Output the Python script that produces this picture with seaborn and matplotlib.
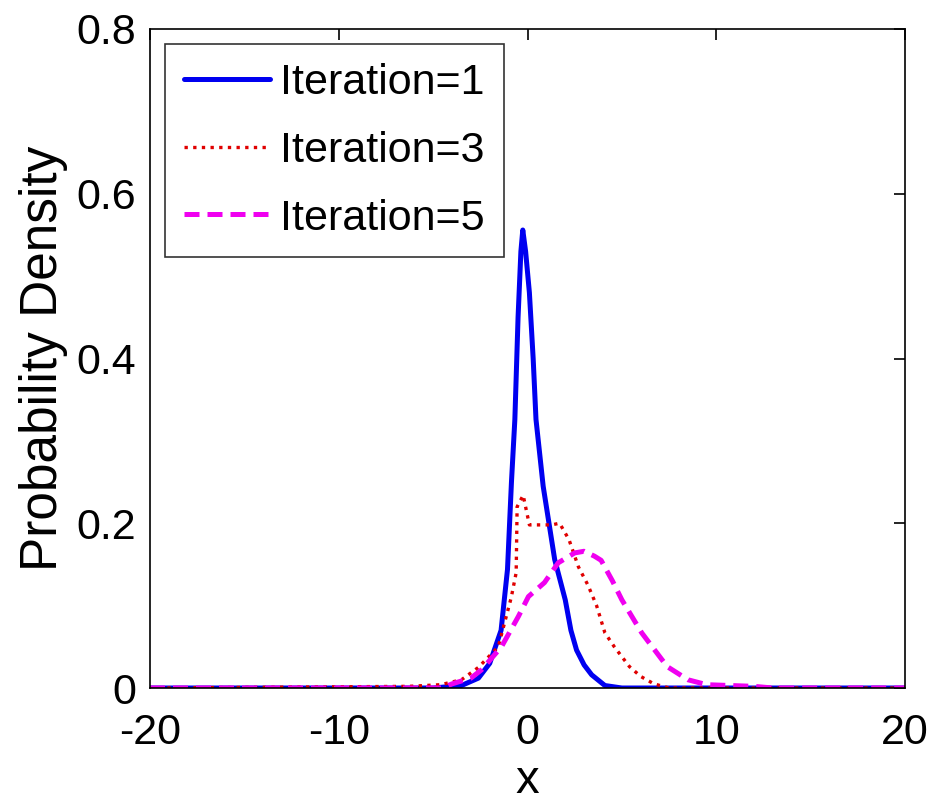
import numpy as np
import pandas as pd
import matplotlib
matplotlib.use("Agg")
import matplotlib.pyplot as plt
import seaborn as sns

# ---- data ----
x_iter1 = [-20, -5, -3.5, -2.6, -2.0, -1.4, -1.06, -0.85, -0.67, -0.5, -0.35, -0.25,
           -0.1, 0.1, 0.3, 0.45, 0.83, 1.44, 2.0, 2.3, 2.6, 3.0, 3.4, 4.1, 5.0, 20]
y_iter1 = [0, 0, 0.003, 0.012, 0.03, 0.07, 0.144, 0.25, 0.326, 0.45, 0.53, 0.556,
           0.53, 0.48, 0.40, 0.326, 0.245, 0.156, 0.107, 0.07, 0.046, 0.028, 0.016, 0.003, 0, 0]

x_iter3 = [-20, -6.3, -4.6, -3.5, -2.6, -1.55, -0.86, -0.6, -0.55, -0.23, 0.1, 0.6,
           1.27, 1.7, 2.2, 2.7, 3.2, 3.66, 4.1, 4.6, 5.4, 6.0, 6.7, 7.5, 20]
y_iter3 = [0, 0.002, 0.004, 0.01, 0.025, 0.05, 0.11, 0.14, 0.22, 0.234, 0.198, 0.198,
           0.198, 0.2, 0.18, 0.147, 0.125, 0.1, 0.067, 0.05, 0.026, 0.014, 0.005, 0, 0]

x_iter5 = [-20, -4.5, -4.0, -3.0, -2.44, -1.38, -0.48, 0.05, 0.9, 1.63, 2.5, 3.0,
           3.55, 3.9, 4.5, 5.0, 6.05, 7.4, 8.5, 9.5, 12, 13, 20]
y_iter5 = [0, 0, 0.005, 0.012, 0.022, 0.05, 0.087, 0.111, 0.128, 0.152, 0.164, 0.166,
           0.16, 0.155, 0.13, 0.107, 0.067, 0.026, 0.01, 0.004, 0.002, 0, 0]

series_labels = ["Iteration=1", "Iteration=3", "Iteration=5"]
x_ticks = [-20, -10, 0, 10, 20]
x_tick_labels = ["-20", "-10", "0", "10", "20"]
y_ticks = [0, 0.2, 0.4, 0.6, 0.8]
y_tick_labels = ["0", "0.2", "0.4", "0.6", "0.8"]

df = pd.concat([
    pd.DataFrame({"x": x_iter1, "density": y_iter1, "series": series_labels[0]}),
    pd.DataFrame({"x": x_iter3, "density": y_iter3, "series": series_labels[1]}),
    pd.DataFrame({"x": x_iter5, "density": y_iter5, "series": series_labels[2]}),
], ignore_index=True)

sns.set_theme(style="white")
plt.rcParams["font.family"] = ["Liberation Sans", "DejaVu Sans"]
plt.rcParams["text.color"] = "black"
plt.rcParams["axes.labelcolor"] = "black"
plt.rcParams["xtick.color"] = "black"
plt.rcParams["ytick.color"] = "black"

fig = plt.figure(figsize=(9.39, 8.08), dpi=100)
ax = fig.add_axes([150 / 939, 120 / 808, 755 / 939, 659 / 808])

styles = {
    series_labels[0]: dict(color="#0000f0", linestyle="-", linewidth=3.6),
    series_labels[1]: dict(color="#e00000", linestyle=(0, (1, 1.6)), linewidth=2.4),
    series_labels[2]: dict(color="#f000f0", linestyle=(0, (3, 1.6)), linewidth=3.6),
}
for lab in series_labels:
    sub = df[df["series"] == lab]
    sns.lineplot(data=sub, x="x", y="density", ax=ax, label=lab,
                 sort=False, estimator=None, **styles[lab])

ax.set_xlim(-20, 20)
ax.set_ylim(0, 0.8)
ax.set_xticks(x_ticks)
ax.set_xticklabels(x_tick_labels)
ax.set_yticks(y_ticks)
ax.set_yticklabels(y_tick_labels)
ax.tick_params(direction="in", length=8, width=1.2, colors="black",
               labelcolor="black", top=True, right=True, labelsize=31)
ax.tick_params(axis="x", pad=18)
ax.tick_params(axis="y", pad=10)
for sp in ax.spines.values():
    sp.set_color("black")
    sp.set_linewidth(1.2)
ax.set_xlabel("x", fontsize=34, labelpad=4, color="black")
ax.set_ylabel("Probability Density", fontsize=37, labelpad=6, color="black")

leg = ax.legend(loc="upper left", fontsize=31, frameon=True, fancybox=False,
                edgecolor="black", handlelength=2.0, handletextpad=0.25,
                labelspacing=0.65, borderaxespad=0.35, borderpad=0.43)
leg.get_frame().set_linewidth(1.2)
for t in leg.get_texts():
    t.set_color("black")

fig.savefig("out.png", dpi=100)
